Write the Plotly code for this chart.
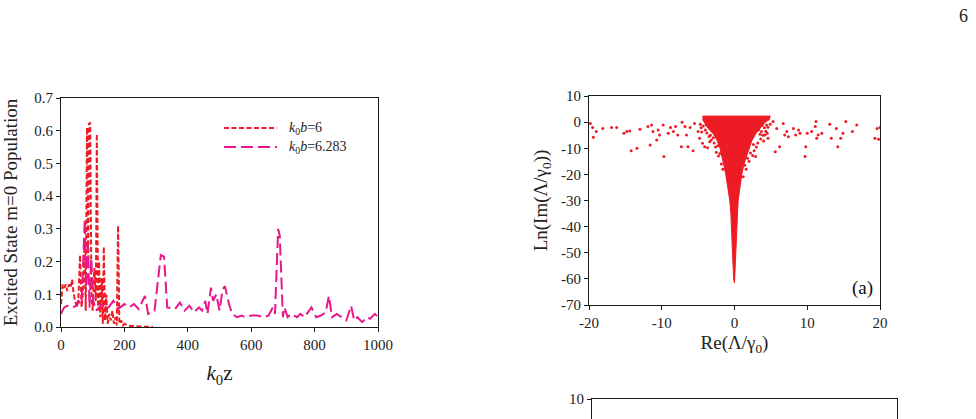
import plotly.graph_objects as go

W, H = 976, 419

# ---------------- left panel data ----------------
red_x = [0, 5, 10, 15, 20, 25, 30, 35, 40, 45, 50, 55, 60, 65, 70, 75, 78, 82, 86, 88, 92, 96,
         100, 105, 110, 113, 117, 120, 124, 128, 132, 135, 139, 143, 147, 152, 157, 162, 167,
         172, 176, 180, 184, 190, 195, 200, 210, 220, 230, 240, 250, 260, 270, 280, 290]
red_y = [0.07, 0.13, 0.12, 0.13, 0.11, 0.13, 0.12, 0.145, 0.10, 0.08, 0.06, 0.09, 0.22, 0.06,
         0.12, 0.27, 0.05, 0.61, 0.20, 0.62, 0.625, 0.10, 0.05, 0.18, 0.08, 0.59, 0.05, 0.20,
         0.03, 0.15, 0.01, 0.245, 0.02, 0.10, 0.01, 0.04, 0.02, 0.05, 0.01, 0.03, 0.005, 0.31,
         0.01, 0.02, 0.005, 0.01, 0.005, 0.003, 0.004, 0.002, 0.002, 0.001, 0.001, 0.001, 0.0]

mag_x = [0, 10, 20, 35, 50, 55, 65, 75, 80, 85, 90, 95, 102, 110, 120, 130, 140, 150, 165,
         180, 200, 215, 230, 245, 265, 275, 295, 315, 325, 335, 360, 375, 390, 405, 420, 435,
         445, 455, 462, 473, 480, 490, 500, 510, 517, 530, 540, 555, 570, 580, 600, 620, 640,
         655, 668, 675, 685, 690, 700, 705, 715, 725, 735, 745, 755, 768, 790, 805, 820, 835,
         845, 855, 870, 885, 900, 915, 925, 935, 950, 965, 975, 990, 1000]
mag_y = [0.04, 0.06, 0.065, 0.06, 0.065, 0.08, 0.07, 0.33, 0.12, 0.25, 0.06, 0.21, 0.08, 0.05,
         0.06, 0.07, 0.055, 0.06, 0.08, 0.055, 0.07, 0.06, 0.07, 0.055, 0.095, 0.04, 0.05,
         0.22, 0.215, 0.06, 0.055, 0.075, 0.05, 0.065, 0.045, 0.06, 0.05, 0.08, 0.04, 0.12,
         0.08, 0.10, 0.05, 0.115, 0.125, 0.07, 0.04, 0.03, 0.035, 0.03, 0.035, 0.035, 0.03,
         0.035, 0.06, 0.04, 0.30, 0.28, 0.03, 0.06, 0.03, 0.04, 0.035, 0.03, 0.04, 0.03, 0.06,
         0.03, 0.035, 0.045, 0.095, 0.03, 0.04, 0.03, 0.02, 0.065, 0.02, 0.03, 0.015, 0.03,
         0.025, 0.04, 0.03]

left_xticks = [0, 200, 400, 600, 800, 1000]
left_yticks = [0.0, 0.1, 0.2, 0.3, 0.4, 0.5, 0.6, 0.7]

# ---------------- right panel data ----------------
# outline of the dense (saturated) eigenvalue region
funnel_x = [-4.4, 4.9, 4.8, 4.2, 3.5, 2.9, 2.4, 2.0, 1.6, 1.3, 1.0, 0.75, 0.5, 0.4, 0.35, 0.28,
            0.24, 0.18, 0.12, 0.0, -0.12, -0.18, -0.24, -0.3, -0.37, -0.5, -0.65, -0.9, -1.2,
            -1.5, -1.7, -2.0, -2.4, -2.9, -3.6, -4.2, -4.4]
funnel_y = [2.3, 2.3, 1.0, 0.0, -2.5, -4.5, -7, -10, -13, -16, -20, -25, -30, -36, -40, -46,
            -50, -55, -60, -61.5, -60, -55, -50, -46, -40, -35, -30, -25, -20, -16, -13, -10,
            -7, -4.5, -2.5, 0.0, 1.0]

# isolated eigenvalues
pts_x = [-19.8, -19.5, -19.4, -19.0, -18.1, -16.9, -16.2, -15.2, -14.8, -14.4, -14.2, -13.4,
         -13.0, -11.9, -11.6, -11.4, -11.2, -10.7, -10.5, -10.3, -9.8, -9.7, -9.1, -8.8, -8.4,
         -8.1, -7.8, -7.3, -7.2, -6.8, -6.6, -6.4, -6.1, -5.7, -5.5, -5.0, -4.8, -4.4, -4.1,
         -4.3, -4.0, -3.8, -3.5, -3.2, -3.0, -2.8, -2.6, -3.4, -2.5, -2.2, -1.8, -1.6, -4.6,
         -3.7, -3.9, -4.7, -4.5, -3.3, -2.9, -2.3, -2.0, -1.4,
         4.6, 4.3, 3.9, 3.6, 3.2, 3.0, 2.7, 2.5, 2.0, 1.6, 1.2, 3.8, 4.5, 2.9, 3.3, 4.0,
         4.9, 4.1, 3.5, 2.6, 2.2, 1.8, 1.4,
         3.3, 3.7, 4.2, 4.4, 4.6, 5.3, 5.6, 5.8, 6.2, 6.7, 6.9, 7.2, 7.4, 8.1, 8.4, 8.8, 9.0,
         9.7, 9.8, 10.0, 10.6, 11.1, 11.2, 11.3, 11.5, 12.0, 13.1, 13.3, 14.0, 14.2, 14.6, 14.9,
         15.3, 16.2, 16.8, 19.3, 19.6, 19.8, 20.0]
pts_y = [-0.5, -2.1, -5.8, -3.6, -2.4, -2.1, -2.1, -4.3, -3.6, -3.4, -11.0, -10.0,
         -2.7, -1.7, -8.8, -1.1, -3.6, -6.8, -3.0, -4.9, -1.1, -13.2, -4.3, -2.1, -3.6,
         -1.7, -4.9, -9.4, 0.0, -1.7, -4.9, -9.4, -2.1, -11.0, -0.5, -3.6, -6.2, -8.1, -9.4,
         -1.5, -3.0, -4.2, -5.5, -6.8, -3.5, -8.0, -9.5, -7.5, -11.5, -13.0, -16.0, -18.0, -2.2,
         -9.8, -1.0, -0.8, -3.8, -5.0, -6.0, -9.0, -12.0, -14.5,
         -2.0, -3.5, -5.0, -6.5, -8.0, -9.5, -11.0, -12.8, -15.0, -18.0, -20.9, -1.2, -4.3,
         -13.2, -3.0, -7.2,
         -0.8, -2.2, -4.6, -8.6, -11.8, -13.8, -16.5,
         -1.7, -3.6, -4.9, -1.1, -6.2, 0.2, -11.3, -2.4, -9.4, -0.5, -4.9, -3.6, -5.6, -2.4,
         -4.9, -3.0, -4.3, -13.2, -9.4, -4.3, -3.6, -1.7, 0.2, -6.2, -4.9, -4.3, -0.8, -6.2,
         -2.4, -9.4, -6.2, -4.3, 0.2, -3.6, -1.1, -6.2, -2.4, -6.6, -2.1]

right_xticks = [-20, -10, 0, 10, 20]
right_yticks = [10, 0, -10, -20, -30, -40, -50, -60, -70]
lower_yticks = [10]

RED = "#ed1c24"
MAG = "#e8178a"
FONT = "Liberation Serif"
INK = "#222222"


def px(x):
    return x / W


def py(y):
    return 1 - y / H


def labels(vals, fmt="{:g}"):
    # plain hyphen-minus, as in the reference
    return [fmt.format(v) for v in vals]


fig = go.Figure()

fig.add_trace(go.Scatter(x=red_x, y=red_y, mode="lines", name="k0b=6",
                         line=dict(color=RED, width=2, dash="5px,2.5px"),
                         xaxis="x", yaxis="y", showlegend=False))
fig.add_trace(go.Scatter(x=mag_x, y=mag_y, mode="lines", name="k0b=6.283",
                         line=dict(color=MAG, width=2, dash="12px,5px"),
                         xaxis="x", yaxis="y", showlegend=False))

fig.add_trace(go.Scatter(x=funnel_x, y=funnel_y, mode="lines", fill="toself",
                         fillcolor=RED, line=dict(color=RED, width=1),
                         xaxis="x2", yaxis="y2", showlegend=False, hoverinfo="skip"))
fig.add_trace(go.Scatter(x=pts_x, y=pts_y, mode="markers",
                         marker=dict(color=RED, size=3, symbol="circle"),
                         xaxis="x2", yaxis="y2", showlegend=False))

fig.add_trace(go.Scatter(x=[], y=[], mode="markers", xaxis="x3", yaxis="y3",
                         showlegend=False))

axis_common = dict(showline=True, linecolor="#1a1a1a", linewidth=1.2, mirror=True,
                   ticks="outside", ticklen=4, tickcolor="#1a1a1a", showgrid=False,
                   zeroline=False, automargin=False,
                   tickfont=dict(family=FONT, size=15, color=INK))

fig.update_layout(
    width=W, height=H, autosize=False,
    margin=dict(l=0, r=0, t=0, b=0),
    paper_bgcolor="white", plot_bgcolor="white",
    font=dict(family=FONT, color=INK),
    xaxis=dict(domain=[px(61), px(378)], anchor="y", range=[0, 1000],
               tickvals=left_xticks, ticktext=labels(left_xticks), **axis_common,
               title=dict(text="<i>k</i><sub>0</sub>z", font=dict(family=FONT, size=21),
                          standoff=13)),
    yaxis=dict(domain=[py(327), py(98)], anchor="x", range=[0, 0.7],
               tickvals=left_yticks, ticktext=labels(left_yticks, "{:.1f}"), **axis_common,
               title=dict(text="Excited State m=0 Population",
                          font=dict(family=FONT, size=19), standoff=12)),
    xaxis2=dict(domain=[px(589), px(880)], anchor="y2", range=[-20, 20],
                tickvals=right_xticks, ticktext=labels(right_xticks), **axis_common,
                title=dict(text="Re(Λ/γ<sub>0</sub>)", font=dict(family=FONT, size=19),
                           standoff=5)),
    yaxis2=dict(domain=[py(305), py(96)], anchor="x2", range=[-70, 10],
                tickvals=right_yticks, ticktext=labels(right_yticks), **axis_common,
                title=dict(text="Ln(Im(Λ/γ<sub>0</sub>))", font=dict(family=FONT, size=19),
                           standoff=8)),
    xaxis3=dict(domain=[px(592), px(897)], anchor="y3", range=[0, 1], side="top",
                showline=True, linecolor="#1a1a1a", linewidth=1.2, mirror=False,
                showticklabels=False, ticks="", showgrid=False, zeroline=False,
                automargin=False),
    yaxis3=dict(domain=[0, py(399)], anchor="x3", range=[9.0, 10],
                tickvals=lower_yticks, ticktext=labels(lower_yticks), **axis_common),
)

# legend drawn inside the left panel
fig.add_shape(type="line", xref="paper", yref="paper", x0=px(224), x1=px(277),
              y0=py(128), y1=py(128), line=dict(color=RED, width=2, dash="5px,2.5px"))
fig.add_shape(type="line", xref="paper", yref="paper", x0=px(224), x1=px(277),
              y0=py(147), y1=py(147), line=dict(color=MAG, width=2, dash="12px,5px"))
fig.add_annotation(xref="paper", yref="paper", x=px(287), y=py(128), xanchor="left",
                   yanchor="middle", showarrow=False,
                   text="<i>k</i><sub>0</sub><i>b</i>=6",
                   font=dict(family=FONT, size=14, color=INK))
fig.add_annotation(xref="paper", yref="paper", x=px(287), y=py(147), xanchor="left",
                   yanchor="middle", showarrow=False,
                   text="<i>k</i><sub>0</sub><i>b</i>=6.283",
                   font=dict(family=FONT, size=14, color=INK))

fig.add_annotation(xref="paper", yref="paper", x=px(862), y=py(288), xanchor="center",
                   yanchor="middle", showarrow=False, text="(a)",
                   font=dict(family=FONT, size=19, color="#111"))
fig.add_annotation(xref="paper", yref="paper", x=px(963), y=py(16), xanchor="center",
                   yanchor="middle", showarrow=False, text="6",
                   font=dict(family=FONT, size=18, color=INK))

fig.write_html("out.html")
